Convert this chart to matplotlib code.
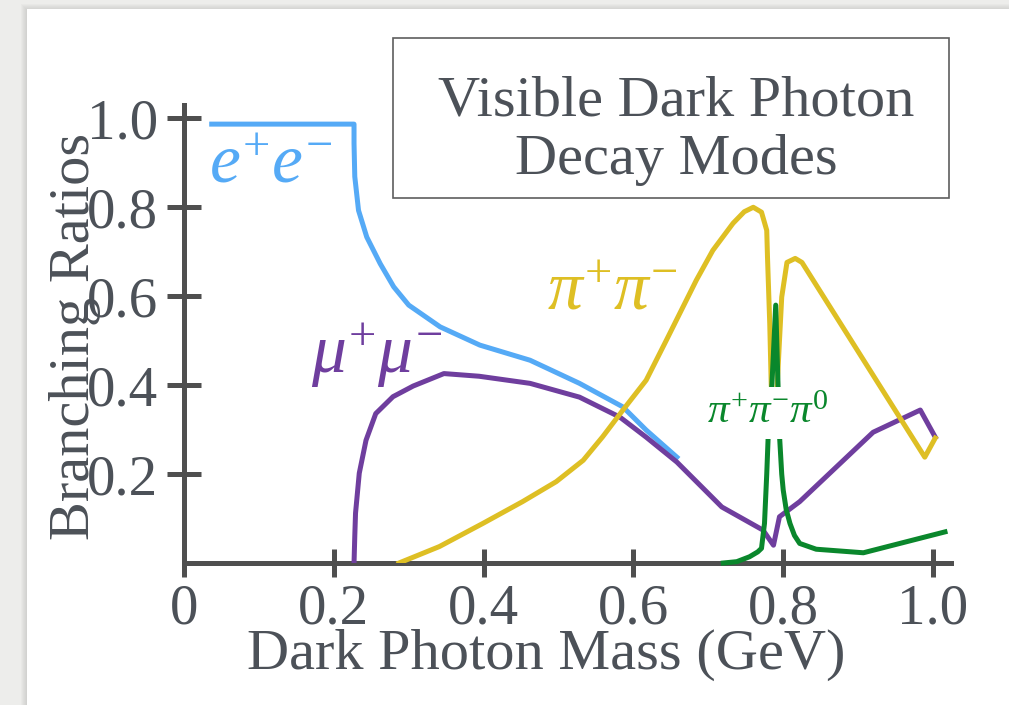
import matplotlib.pyplot as plt
import matplotlib.patches as mpatches

plt.rcParams['font.family'] = ['Liberation Serif', 'DejaVu Serif']
plt.rcParams['mathtext.fontset'] = 'custom'
plt.rcParams['mathtext.rm'] = 'Liberation Serif'
plt.rcParams['mathtext.it'] = 'Liberation Serif:italic'
plt.rcParams['mathtext.bf'] = 'Liberation Serif:bold'

# branching ratios (mass in GeV)
mass_ee = [0.037, 0.227, 0.227, 0.228, 0.233, 0.244, 0.262, 0.280, 0.300,
           0.342, 0.395, 0.462, 0.528, 0.586, 0.617, 0.658]
br_ee = [0.987, 0.987, 0.943, 0.869, 0.793, 0.733, 0.673, 0.621, 0.580,
         0.531, 0.490, 0.456, 0.404, 0.351, 0.299, 0.238]

mass_mumu = [0.227, 0.228, 0.229, 0.234, 0.243, 0.256, 0.279, 0.306, 0.347, 0.394,
             0.462, 0.528, 0.582, 0.617, 0.658, 0.718, 0.773, 0.787, 0.795,
             0.822, 0.920, 0.983, 1.003]
br_mumu = [0.0, 0.06, 0.112, 0.202, 0.276, 0.336, 0.374, 0.398, 0.426, 0.420,
           0.404, 0.373, 0.328, 0.283, 0.227, 0.126, 0.074, 0.040, 0.104,
           0.138, 0.294, 0.344, 0.283]

mass_pipi = [0.287, 0.341, 0.399, 0.452, 0.497, 0.533, 0.559, 0.586, 0.617, 0.644,
             0.684, 0.706, 0.733, 0.748, 0.760, 0.771, 0.778, 0.779, 0.782, 0.784,
             0.787, 0.792, 0.795, 0.798, 0.805, 0.816, 0.825, 0.989, 1.003]
br_pipi = [0.0, 0.037, 0.089, 0.138, 0.183, 0.231, 0.284, 0.344, 0.411, 0.501,
           0.636, 0.703, 0.764, 0.790, 0.800, 0.789, 0.748, 0.688, 0.539, 0.40,
           0.34, 0.40, 0.50, 0.598, 0.676, 0.685, 0.676, 0.238, 0.281]

mass_3pi = [0.720, 0.738, 0.755, 0.766, 0.771, 0.775, 0.778, 0.780, 0.785, 0.790,
            0.793, 0.795, 0.798, 0.800, 0.804, 0.809, 0.815, 0.822, 0.844, 0.907, 1.016]
br_3pi = [0.0, 0.003, 0.014, 0.025, 0.033, 0.089, 0.20, 0.288, 0.404, 0.580,
          0.404, 0.288, 0.20, 0.164, 0.12, 0.089, 0.062, 0.044, 0.031, 0.023, 0.070]

xticks = [0, 0.2, 0.4, 0.6, 0.8, 1.0]
xticklabels = ['0', '0.2', '0.4', '0.6', '0.8', '1.0']
yticks = [0.2, 0.4, 0.6, 0.8, 1.0]
yticklabels = ['0.2', '0.4', '0.6', '0.8', '1.0']

c_ee = '#55AAF6'
c_mumu = '#6F3E9E'
c_pipi = '#DEBF24'
c_3pi = '#0A872C'
txt = '#4C5158'
axc = '#4F4F4F'

W, H = 1009, 705
fig = plt.figure(figsize=(W / 100, H / 100), dpi=100)
fig.patch.set_facecolor('#EDEDEB')

# white card with a soft shadow
for i in range(6):
    fig.add_artist(mpatches.Rectangle(((27 - 6 + i) / W, 0), 1, 1 - (9 - 5 + i) / H,
                                      transform=fig.transFigure, fc='#9a9a9a',
                                      ec='none', alpha=0.06, zorder=0))
fig.add_artist(mpatches.Rectangle((27 / W, 0), 1, 1 - 9 / H, transform=fig.transFigure,
                                  fc='white', ec='none', zorder=0))

ax = fig.add_axes([184 / W, 1 - 563 / H, (951 - 184) / W, (563 - 105) / H])
ax.set_facecolor('none')
ax.set_xlim(0, 1.024)
ax.set_ylim(0, 1.03)

lw = 3.6
ax.plot(mass_ee, br_ee, color=c_ee, lw=lw, zorder=3)
ax.plot(mass_mumu, br_mumu, color=c_mumu, lw=lw, zorder=4)
ax.plot(mass_pipi, br_pipi, color=c_pipi, lw=lw, zorder=5)
ax.plot(mass_3pi, br_3pi, color=c_3pi, lw=lw, zorder=6, clip_on=False)

for s in ['top', 'right']:
    ax.spines[s].set_visible(False)
for s in ['left', 'bottom']:
    ax.spines[s].set_color(axc)
    ax.spines[s].set_linewidth(3.6)

ax.set_xticks(xticks)
ax.set_xticklabels(xticklabels)
ax.set_yticks(yticks)
ax.set_yticklabels(yticklabels)
ax.tick_params(axis='x', direction='inout', length=20, width=3.6, color=axc,
               labelsize=41, labelcolor=txt, pad=5)
ax.tick_params(axis='y', direction='inout', length=25, width=3.6, color=axc,
               labelsize=41, labelcolor=txt, pad=6)

fig.text(546 / W, 1 - 669 / H, 'Dark Photon Mass (GeV)', ha='center', va='baseline',
         fontsize=42, color=txt)
fig.text(89 / W, 1 - 336 / H, 'Branching Ratios', rotation=90, rotation_mode='anchor',
         ha='center', va='baseline', fontsize=42, color=txt)

# title box
fig.add_artist(mpatches.Rectangle((393 / W, 1 - 198 / H), 556 / W, 160 / H,
                                  transform=fig.transFigure, fill=False,
                                  ec='#5E5E5E', lw=1.2, zorder=2))
fig.text(676 / W, 1 - 115 / H, 'Visible Dark Photon', ha='center', va='baseline',
         fontsize=42, color=txt)
fig.text(676 / W, 1 - 174 / H, 'Decay Modes', ha='center', va='baseline',
         fontsize=42, color=txt)

# curve labels
ax.text(0.033, 0.856, r'$e^{+}e^{-}$', color=c_ee, fontsize=50, ha='left', va='baseline')
ax.text(0.170, 0.427, r'$\mu^{+}\mu^{-}$', color=c_mumu, fontsize=50, ha='left', va='baseline')
ax.text(0.485, 0.569, r'$\pi^{+}\pi^{-}$', color=c_pipi, fontsize=50, ha='left', va='baseline')
ax.text(0.698, 0.315, r'$\pi^{+}\pi^{-}\pi^{\mathit{0}}$', color=c_3pi, fontsize=31,
        ha='left', va='baseline', zorder=8,
        bbox=dict(fc='white', ec='none', pad=5))

fig.savefig('out.png', dpi=100, facecolor=fig.get_facecolor())
